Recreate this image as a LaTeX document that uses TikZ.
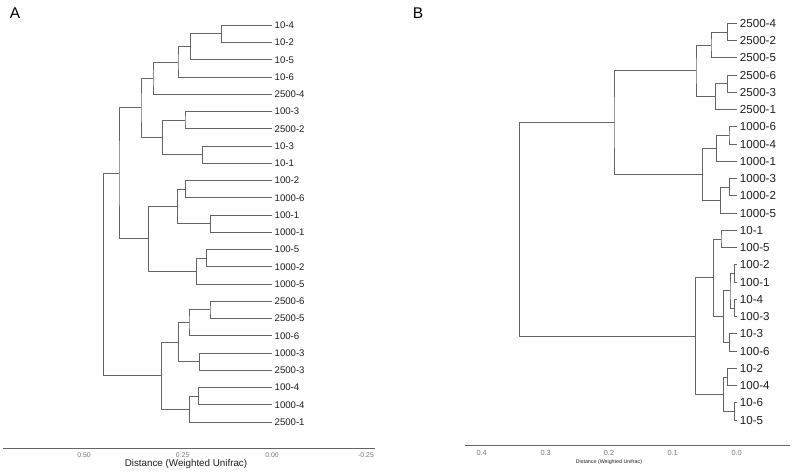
\documentclass[tikz,border=0pt]{standalone}
\usepackage{fontspec}
\setmainfont{Liberation Sans}
\definecolor{branch}{RGB}{100,100,100}
\definecolor{labelc}{RGB}{30,30,30}
\definecolor{tickc}{RGB}{120,120,120}
\begin{document}
\begin{tikzpicture}[x=1pt,y=-1pt,
  br/.style={draw=branch,line width=0.75pt},
  leafA/.style={anchor=west,inner sep=0pt,text=labelc,font=\fontsize{9.6}{10}\selectfont},
  leafB/.style={anchor=west,inner sep=0pt,text=labelc,font=\fontsize{11.6}{12}\selectfont},
  tickA/.style={inner sep=0pt,text=tickc,font=\fontsize{6.9}{8}\selectfont},
  tickB/.style={inner sep=0pt,text=tickc,font=\fontsize{7.4}{8}\selectfont},
  axisline/.style={draw=branch,line width=0.75pt},
  panel/.style={inner sep=0pt,font=\fontsize{15.5}{16}\selectfont}]
\useasboundingbox (0,0) rectangle (793,472);
\fill[white] (0,0) rectangle (793,472);

% ---------------- Panel A ----------------
\node[panel] (pA) at (15,13) {A};
\foreach \i/\lab in {0/10-4,1/10-2,2/10-5,3/10-6,4/2500-4,5/100-3,6/2500-2,7/10-3,8/10-1,9/100-2,10/1000-6,11/100-1,12/1000-1,13/100-5,14/1000-2,15/1000-5,16/2500-6,17/2500-5,18/100-6,19/1000-3,20/2500-3,21/100-4,22/1000-4,23/2500-1}{
  \coordinate (aL\i) at (272,{25.2+17.25*\i});
  \node[leafA] (aT\i) at (274.5,{25.2+17.25*\i}) {\lab};
}
\coordinate (an1) at (221.7,33.8);
\coordinate (an2) at (190.7,46.8);
\coordinate (an3) at (178,61.9);
\coordinate (an4) at (153,78.0);
\coordinate (an5) at (185,120.1);
\coordinate (an6) at (202.5,154.6);
\coordinate (an7) at (162.7,137.3);
\coordinate (an8) at (141,107.7);
\coordinate (an9) at (185.7,189.1);
\coordinate (an10) at (210.7,223.6);
\coordinate (an11) at (177.7,206.3);
\coordinate (an12) at (206.7,258.1);
\coordinate (an13) at (196.7,271.0);
\coordinate (an14) at (148.7,238.7);
\coordinate (an15) at (119,173.2);
\coordinate (an16) at (210,309.8);
\coordinate (an17) at (189,322.8);
\coordinate (an18) at (199.3,361.6);
\coordinate (an19) at (178.3,342.2);
\coordinate (an20) at (198.3,396.1);
\coordinate (an21) at (189.7,409.0);
\coordinate (an22) at (161.7,375.6);
\coordinate (anR) at (103.3,274.4);
\foreach \p/\a/\b in {an1/aL0/aL1, an2/an1/aL2, an3/an2/aL3, an4/an3/aL4,
  an5/aL5/aL6, an6/aL7/aL8, an7/an5/an6, an8/an4/an7,
  an9/aL9/aL10, an10/aL11/aL12, an11/an9/an10, an12/aL13/aL14, an13/an12/aL15,
  an14/an11/an13, an15/an8/an14,
  an16/aL16/aL17, an17/an16/aL18, an18/aL19/aL20, an19/an17/an18,
  an20/aL21/aL22, an21/an20/aL23, an22/an19/an21, anR/an15/an22}{
  \draw[br] (\a) -| (\p) |- (\b);
}
% axis A
\coordinate (aax0) at (3,448);
\coordinate (aax1) at (375,448);
\draw[axisline] (aax0) -- (aax1);
\node[tickA] (at1) at (84,455.5) {0.50};
\node[tickA] (at2) at (182.7,455.5) {0.25};
\node[tickA] (at3) at (272,455.5) {0.00};
\node[tickA] (at4) at (366,455.5) {-0.25};
\node[inner sep=0pt,text=labelc,font=\fontsize{9.8}{11}\selectfont] (atitle) at (186,463.5) {Distance (Weighted Unifrac)};

% ---------------- Panel B ----------------
\node[panel] (pB) at (418,13) {B};
\foreach \i/\lab in {0/2500-4,1/2500-2,2/2500-5,3/2500-6,4/2500-3,5/2500-1,6/1000-6,7/1000-4,8/1000-1,9/1000-3,10/1000-2,11/1000-5,12/10-1,13/100-5,14/100-2,15/100-1,16/10-4,17/100-3,18/10-3,19/100-6,20/10-2,21/100-4,22/10-6,23/10-5}{
  \coordinate (bL\i) at (736.7,{23.3+17.25*\i});
  \node[leafB] (bT\i) at (739.7,{23.3+17.25*\i}) {\lab};
}
\coordinate (bn1) at (727.3,31.9);
\coordinate (bn2) at (711,44.9);
\coordinate (bn3) at (727.3,83.7);
\coordinate (bn4) at (715.7,96.6);
\coordinate (bn5) at (696,70.8);
\coordinate (bn6) at (729,135.4);
\coordinate (bn7) at (716.7,148.4);
\coordinate (bn8) at (729.3,187.2);
\coordinate (bn9) at (720.7,200.1);
\coordinate (bn10) at (702.3,174.3);
\coordinate (bn11) at (614,122.5);
\coordinate (bn12) at (721,238.9);
\coordinate (bn13) at (734.3,273.4);
\coordinate (bn14) at (734.3,307.9);
\coordinate (bn15) at (730,290.7);
\coordinate (bn16) at (729.3,342.4);
\coordinate (bn17) at (723.3,316.6);
\coordinate (bn18) at (713.3,277.7);
\coordinate (bn19) at (727.3,376.9);
\coordinate (bn20) at (734.3,411.4);
\coordinate (bn21) at (723.3,394.2);
\coordinate (bn22) at (695.7,335.9);
\coordinate (bnR) at (519.3,229.2);
\foreach \p/\a/\b in {bn1/bL0/bL1, bn2/bn1/bL2, bn3/bL3/bL4, bn4/bn3/bL5, bn5/bn2/bn4,
  bn6/bL6/bL7, bn7/bn6/bL8, bn8/bL9/bL10, bn9/bn8/bL11, bn10/bn7/bn9, bn11/bn5/bn10,
  bn12/bL12/bL13, bn13/bL14/bL15, bn14/bL16/bL17, bn15/bn13/bn14, bn16/bL18/bL19,
  bn17/bn15/bn16, bn18/bn12/bn17, bn19/bL20/bL21, bn20/bL22/bL23, bn21/bn19/bn20,
  bn22/bn18/bn21, bnR/bn11/bn22}{
  \draw[br] (\a) -| (\p) |- (\b);
}
% axis B
\coordinate (bax0) at (465,445.7);
\coordinate (bax1) at (790,445.7);
\draw[axisline] (bax0) -- (bax1);
\node[tickB] (bt1) at (481.7,453.3) {0.4};
\node[tickB] (bt2) at (545.7,453.3) {0.3};
\node[tickB] (bt3) at (609,453.3) {0.2};
\node[tickB] (bt4) at (672.7,453.3) {0.1};
\node[tickB] (bt5) at (736.7,453.3) {0.0};
\node[inner sep=0pt,text=labelc,font=\fontsize{5.3}{6}\selectfont] (btitle) at (609,462.5) {Distance (Weighted Unifrac)};
\end{tikzpicture}
\end{document}
